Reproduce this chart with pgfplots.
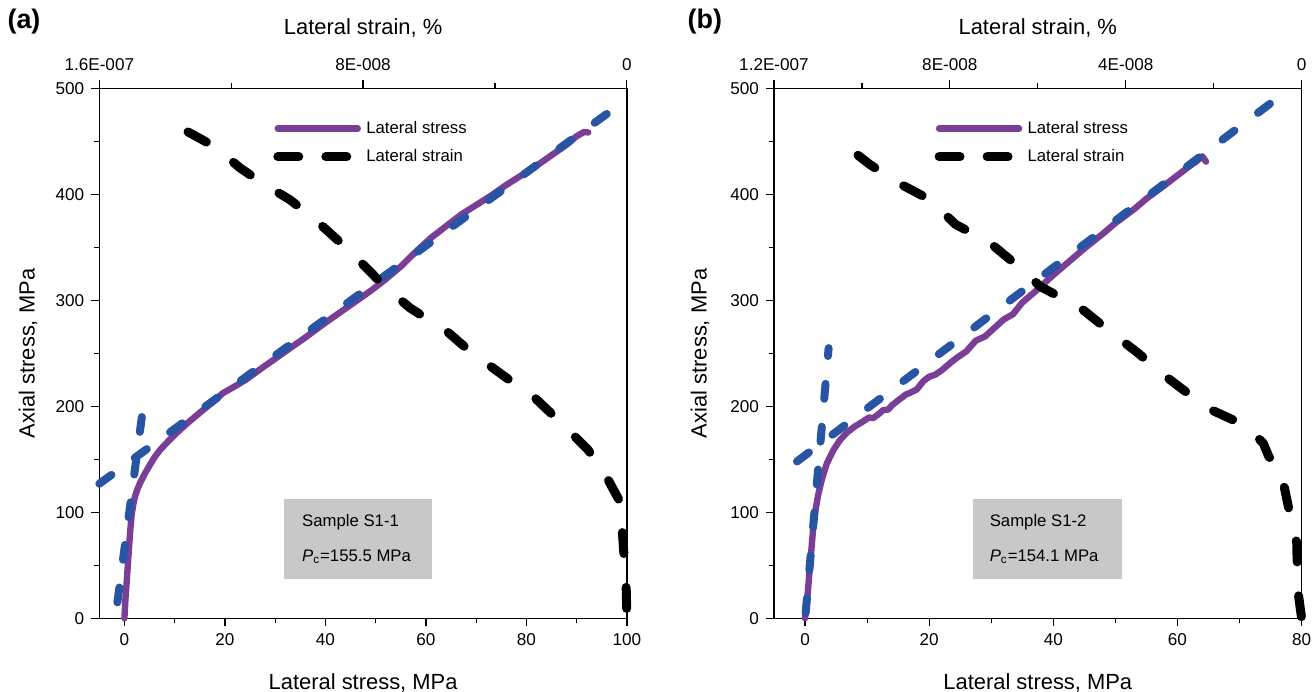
\documentclass[border=0pt]{standalone}
\usepackage{fontspec}
\setmainfont{Liberation Sans}
\usepackage{pgfplots}
\pgfplotsset{compat=1.18}

\definecolor{stresspurple}{RGB}{122,62,150}
\definecolor{fitblue}{RGB}{40,84,164}
\definecolor{boxgray}{RGB}{200,200,200}

\pgfplotsset{
  panel/.style={
    scale only axis, width=263.8bp, height=264.9bp,
    anchor=south west, clip=false,
    ymin=0, ymax=500, ytick={0,100,...,500}, minor ytick={50,150,...,450},
    tick align=outside, xtick pos=bottom, ytick pos=left,
    major tick length=4bp, minor tick length=2.5bp,
    every tick/.style={black, line width=0.6bp},
    axis line style={line width=0.6bp},
    /pgf/number format/assume math mode=true,
    ticklabel style={font=\fontsize{8.6}{10}\selectfont},
    label style={font=\fontsize{11}{13}\selectfont},
    xlabel={Lateral stress, MPa}, ylabel={Axial stress, MPa},
    xlabel style={at={(axis description cs:0.5,-0.122)}, anchor=center},
    legend image code/.code={\draw[##1] (0bp,0bp) -- (40bp,0bp);},
    legend cell align=left,
    legend style={draw=none, fill=none, inner sep=0pt, row sep=2.5bp,
      font=\fontsize{8.4}{10}\selectfont, anchor=north west,
      nodes={inner sep=2bp}},
  },
  strainaxis/.style={
    scale only axis, width=263.8bp, height=264.9bp,
    anchor=south west, clip=false,
    xmin=0, x dir=reverse, ymin=0, ymax=500,
    axis x line*=top, axis y line=none,
    x axis line style={-, line width=0.6bp},
    scaled x ticks=false,
    tick align=outside,
    major tick length=4bp, minor tick length=2.5bp,
    every tick/.style={black, line width=0.6bp},
    ticklabel style={font=\fontsize{8.6}{10}\selectfont},
    xticklabel style={yshift=1.5bp},
    label style={font=\fontsize{11}{13}\selectfont},
    xlabel={Lateral strain, \%},
    xlabel style={at={(axis description cs:0.5,1.114)}, anchor=center},
  },
  stress/.style={color=stresspurple, line width=3.2bp, line join=round, line cap=round, mark=none},
  fit/.style={color=fitblue, line width=4bp, line cap=round, dash pattern=on 7.5bp off 14bp, mark=none},
  strain/.style={black, line width=4.5bp, line cap=round, line join=round, dash pattern=on 10.5bp off 17bp, mark=none},
  legendstrain/.style={black, line width=4.5bp, line cap=round, dash pattern=on 10.5bp off 13.5bp},
}

\begin{document}
\begin{tikzpicture}
\useasboundingbox (0,0) rectangle (658bp,346bp);

% ---------------- panel (a): sample S1-1 ----------------
\begin{axis}[panel, at={(49.65bp,36.85bp)},
  xmin=-5, xmax=100, xtick={0,20,...,100}, minor xtick={10,30,...,90},
  ylabel style={at={(axis description cs:-0.135,0.5)}, anchor=center},
  legend style={at={(axis description cs:0.329,0.947)}}]
\addplot[stress] coordinates {
 (0,0) (0.2,18) (0.48,36) (0.7,52) (0.93,68) (1.2,85) (1.47,99) (1.8,108)
 (2.1,115) (2.6,122) (3.1,127.6) (4,136) (5.1,145) (6,152) (7.1,159)
 (8.7,167) (10.4,175) (12.5,184) (15,194) (17.3,203) (19.6,212.5) (22,219)
 (24.3,225.5) (27,235) (30,245) (33,255) (36,265) (40,279) (43,289) (46,299)
 (49,309) (52,320) (55,332) (58,346) (61,359) (64,370) (67,381) (70,390)
 (73,399) (76,409) (79,418) (82,427) (85,437) (88,447) (90,455) (91.5,459)
 (92.3,458.5)};
\addlegendentry{Lateral stress}
\addplot[fit, dash pattern=on 7.5bp off 14.39bp, forget plot] coordinates {(-5,127) (96,476)};
\addplot[fit, forget plot] coordinates {(-1.4,15) (3.8,202)};
\addlegendimage{legendstrain}
\addlegendentry{Lateral strain}
\fill[boxgray] (axis cs:31.75,37.1) rectangle (axis cs:61.3,112.8);
\node[anchor=west, font=\fontsize{8.4}{10}\selectfont, inner sep=0pt] at (axis cs:35.3,91) {Sample S1-1};
\node[anchor=west, font=\fontsize{8.4}{10}\selectfont, inner sep=0pt] at (axis cs:35.3,58) {\textit{P}\textsubscript{c}=155.5 MPa};
\node[font=\fontsize{13.5}{15}\selectfont\bfseries] at (axis description cs:-0.1427,1.127) {(a)};
\end{axis}

\begin{axis}[strainaxis, at={(49.65bp,36.85bp)},
  xmax=1.6e-7, xtick={0,8e-8,1.6e-7}, xticklabels={0,8E-008,1.6E-007},
  minor xtick={4e-8,1.2e-7}]
\addplot[strain] coordinates {
 (13.31e-8,459) (12.49e-8,445) (11.73e-8,425) (11.07e-8,411) (10.22e-8,395)
 (9.52e-8,378) (8.70e-8,355) (8.10e-8,337) (7.34e-8,313) (6.58e-8,293)
 (5.43e-8,270) (4.76e-8,252) (3.70e-8,228) (2.79e-8,208) (1.88e-8,181)
 (1.18e-8,159) (0.73e-8,140) (0.21e-8,110) (0.12e-8,74) (0.05e-8,41)
 (0.02e-8,27) (0,0)};
\end{axis}

% ---------------- panel (b): sample S1-2 ----------------
\begin{axis}[panel, at={(387bp,36.85bp)},
  xmin=-5, xmax=80, xtick={0,20,...,80}, minor xtick={10,30,...,70},
  ylabel style={at={(axis description cs:-0.14,0.5)}, anchor=center},
  legend style={at={(axis description cs:0.3036,0.947)}}]
\addplot[stress] coordinates {
 (0,0) (0.2,10) (0.37,20) (0.55,32) (0.8,50) (1.07,68) (1.3,84) (1.6,99)
 (2.1,116) (2.7,131) (3.5,146) (4.6,159) (5.6,168) (6.7,175) (8,181)
 (9.4,186) (10.3,189.5) (11,189) (11.8,192.5) (12.6,196.5) (13.4,197)
 (14,201) (15.3,207) (16.2,211) (17,213) (18,216) (19.1,224) (20,228)
 (21,230) (22,234) (23.4,241) (24.5,246) (26,252) (27.5,262) (29,266)
 (30.5,274) (32,282) (33.5,287) (35,298) (37,308) (40,324) (42,334)
 (45,349) (48,363) (50,373) (53,386) (55,396) (58,409) (60,418) (62,427)
 (63,431) (64,436) (64.6,431)};
\addlegendentry{Lateral stress}
\addplot[fit, dash pattern=on 7.5bp off 14.73bp, forget plot] coordinates {(-1.3,148) (75,486)};
\addplot[fit, forget plot] coordinates {(0.1,5) (3.8,255)};
\addlegendimage{legendstrain}
\addlegendentry{Lateral strain}
\fill[boxgray] (axis cs:27.05,37.1) rectangle (axis cs:51.08,112.8);
\node[anchor=west, font=\fontsize{8.4}{10}\selectfont, inner sep=0pt] at (axis cs:29.7,91) {Sample S1-2};
\node[anchor=west, font=\fontsize{8.4}{10}\selectfont, inner sep=0pt] at (axis cs:29.7,58) {\textit{P}\textsubscript{c}=154.1 MPa};
\node[font=\fontsize{13.5}{15}\selectfont\bfseries] at (axis description cs:-0.131,1.127) {(b)};
\end{axis}

\begin{axis}[strainaxis, at={(387bp,36.85bp)},
  xmax=1.2e-7, xtick={0,4e-8,8e-8,1.2e-7}, xticklabels={0,4E-008,8E-008,1.2E-007},
  minor xtick={2e-8,6e-8,1e-7}]
\addplot[strain] coordinates {
 (10.09e-8,437) (9.81e-8,428) (9.18e-8,411) (8.45e-8,395) (7.88e-8,372)
 (7.08e-8,354) (6.44e-8,332) (5.94e-8,313) (5.03e-8,293) (4.46e-8,274)
 (3.71e-8,250) (3.21e-8,232) (2.64e-8,214) (2.07e-8,197) (1.23e-8,181)
 (0.87e-8,165) (0.75e-8,153) (0.46e-8,137) (0.30e-8,105) (0.11e-8,71)
 (0.09e-8,28) (0,0)};
\end{axis}
\end{tikzpicture}
\end{document}
